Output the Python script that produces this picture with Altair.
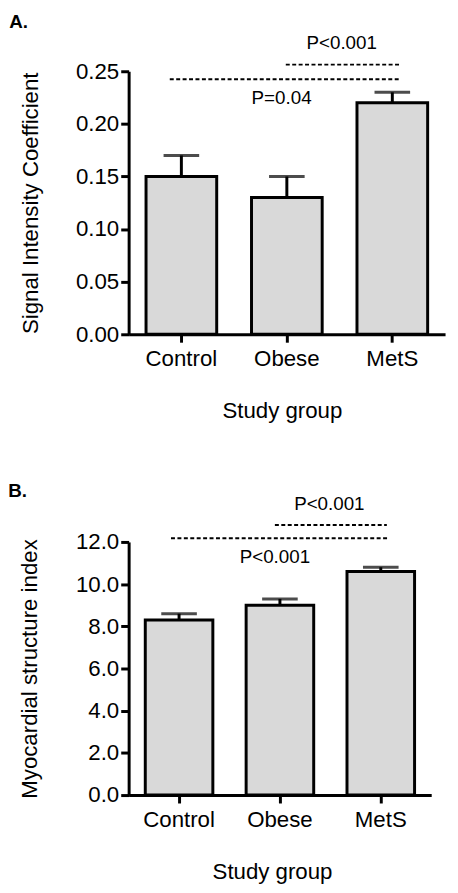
import altair as alt
import pandas as pd

FONT = "Liberation Sans"

groups = ["Control", "Obese", "MetS"]

# Panel A: Signal Intensity Coefficient
sic_mean = [0.15, 0.13, 0.22]
sic_err = [0.02, 0.02, 0.01]
sic_ticks = [0.0, 0.05, 0.10, 0.15, 0.20, 0.25]

# Panel A annotations (x in group units 0..3)
a_line_x1 = [0.39, 1.49]
a_line_x2 = [2.57, 2.58]
a_line_y = [0.2425, 0.2563]
a_text = ["P<0.001", "P=0.04"]
a_text_x = [2.02, 1.45]
a_text_y = [0.277, 0.2246]

# Panel B: Myocardial structure index
msi_mean = [8.3, 9.0, 10.6]
msi_err = [0.3, 0.3, 0.2]
msi_ticks = [0.0, 2.0, 4.0, 6.0, 8.0, 10.0, 12.0]

b_line_x1 = [0.42, 1.45]
b_line_x2 = [2.57, 2.56]
b_line_y = [12.17, 12.8]
b_text = ["P<0.001", "P<0.001"]
b_text_x = [1.99, 1.45]
b_text_y = [13.8, 11.3]


def panel(label, mean, err, ticks, fmt, ydomain, ytitle, lx1, lx2, ly, txt, tx, ty,
          w, h, ytitle_pad, title_offset, xtitle_shift):
    df = pd.DataFrame({"group": groups, "mean": mean,
                       "upper": [m + e for m, e in zip(mean, err)]})
    lines = pd.DataFrame({"x1": lx1, "x2": lx2, "y": ly})
    texts = pd.DataFrame({"t": txt, "x": tx, "y": ty})

    xscale = alt.Scale(paddingInner=0.33, paddingOuter=0.165)
    xaxis = alt.Axis(labelAngle=0, titlePadding=30, labelPadding=6,
                     titleX=w / 2 + xtitle_shift)
    yscale = alt.Scale(domain=ydomain, nice=False, zero=True)
    yaxis = alt.Axis(values=ticks, format=fmt, titlePadding=ytitle_pad, labelPadding=2)

    def xb():
        return alt.X("group:N", sort=groups, title="Study group", scale=xscale, axis=xaxis)

    def yq(field):
        return alt.Y(field, scale=yscale, title=ytitle, axis=yaxis)

    bars = alt.Chart(df).mark_bar(fill="#d9d9d9", stroke="black", strokeWidth=3).encode(
        x=xb(), y=yq("mean:Q"))
    errs = alt.Chart(df).mark_rule(color="black", strokeWidth=3).encode(
        x=xb(), y=yq("mean:Q"), y2="upper:Q")
    caps = alt.Chart(df).mark_tick(color="black", size=36, thickness=3).encode(
        x=xb(), y=yq("upper:Q"))
    base = alt.layer(bars, errs, caps)

    xq = alt.Scale(domain=[0, 3], nice=False, zero=False)
    rules = alt.Chart(lines).mark_rule(color="black", strokeWidth=2, strokeDash=[4, 2.5]).encode(
        x=alt.X("x1:Q", scale=xq, axis=None),
        x2="x2:Q",
        y=yq("y:Q"))
    labels = alt.Chart(texts).mark_text(font=FONT, fontSize=19, color="black",
                                        baseline="middle", align="center").encode(
        x=alt.X("x:Q", scale=xq, axis=None),
        y=yq("y:Q"),
        text="t:N")
    anno = alt.layer(rules, labels)

    return alt.layer(base, anno).resolve_scale(x="independent").properties(
        width=w, height=h,
        title=alt.TitleParams(label, anchor="start", frame="bounds", fontSize=19,
                              fontWeight="bold", font=FONT, color="black",
                              dx=-11, offset=title_offset, baseline="alphabetic"))


a = panel("A.", sic_mean, sic_err, sic_ticks, ".2f", [0, 0.25],
          "Signal Intensity Coefficient", a_line_x1, a_line_x2, a_line_y,
          a_text, a_text_x, a_text_y, 320, 266, 33, -13, -5)
b = panel("B.", msi_mean, msi_err, msi_ticks, ".1f", [0, 12],
          "Myocardial structure index", b_line_x1, b_line_x2, b_line_y,
          b_text, b_text_x, b_text_y, 306, 256, 34, -21, -8)

chart = alt.vconcat(a, b, spacing=60).properties(
    padding={"left": 0, "top": 0, "right": 5, "bottom": 0}
).configure_view(stroke=None).configure_axis(
    grid=False,
    domainColor="black", domainWidth=3,
    tickColor="black", tickWidth=3, tickSize=8,
    labelFont=FONT, labelFontSize=22.5, labelColor="black",
    titleFont=FONT, titleFontSize=22.5, titleFontWeight="normal", titleColor="black",
)

chart.save("out.html", embed_options={"renderer": "svg", "actions": False})
